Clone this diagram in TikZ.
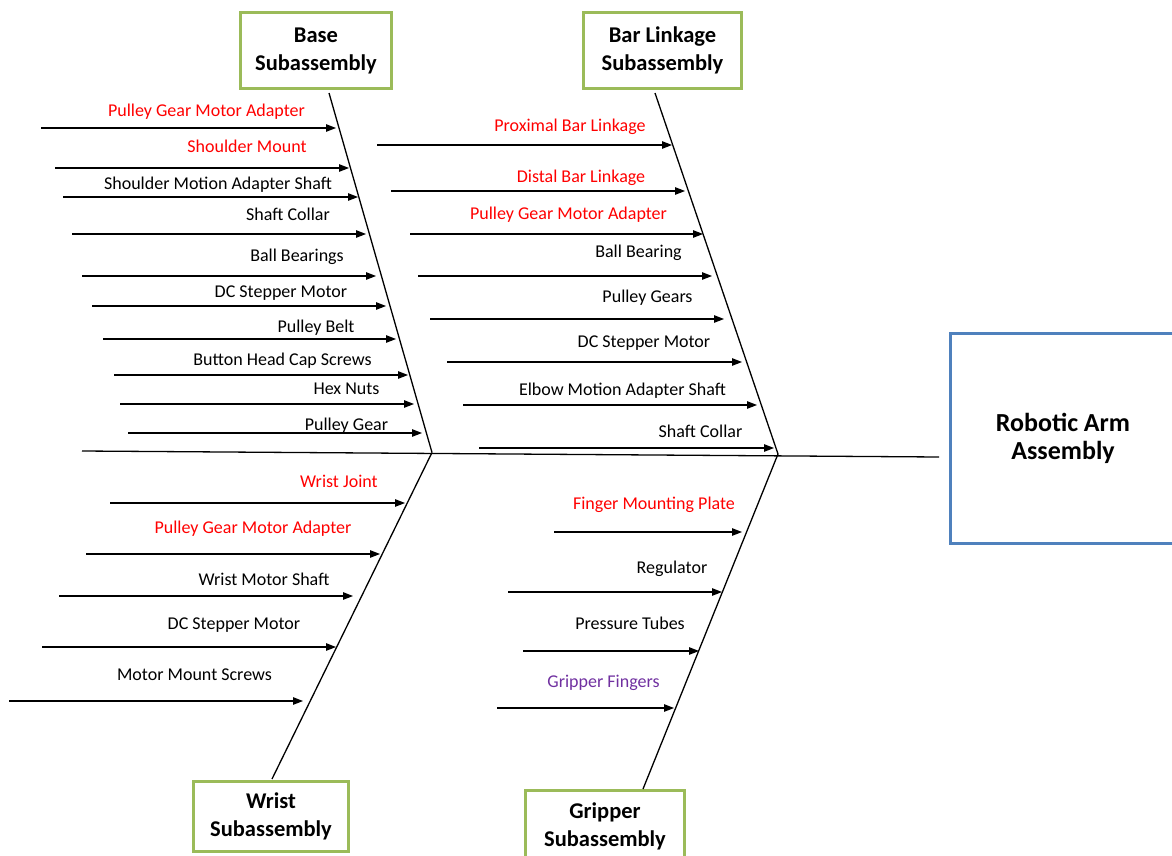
\documentclass[tikz,border=0pt]{standalone}
\usepackage{fontspec}
\setmainfont{Carlito}
\usetikzlibrary{arrows.meta}
\definecolor{boxgreen}{HTML}{9BBB59}
\definecolor{boxblue}{HTML}{4F81BD}
\definecolor{itemred}{HTML}{FF0000}
\definecolor{itempurple}{HTML}{7030A0}
\tikzset{
  arr/.style={-{Triangle[length=10pt,width=7.5pt]}, line width=1.2pt, black},
  bone/.style={line width=1.3pt, black},
  lbl/.style={font=\fontsize{18}{21}\selectfont, anchor=base, yshift=-5.5pt, inner sep=0pt},
  subbox/.style={draw=boxgreen, line width=3pt, fill=white, align=center,
     font=\fontsize{22.5}{28}\selectfont\bfseries, inner sep=0pt},
  headbox/.style={draw=boxblue, line width=3pt, fill=white, align=center,
     font=\fontsize{26}{28}\selectfont\bfseries, inner sep=0pt}
}
\newcommand{\fishitem}[8]{%
  \coordinate (#1s) at (#6,#8);
  \coordinate (#1e) at (#7,#8);
  \draw[arr] (#1s) -- (#1e);
  \node[lbl,text=#4] (#1l) at (#2,#3) {#5};
}
\begin{document}
\begin{tikzpicture}[x=1pt,y=-1pt]
\useasboundingbox (0,0) rectangle (1172,856);
\clip (0,0) rectangle (1172,856);

% boxes
\node[subbox, minimum width=151pt, minimum height=76pt] (base) at (316,50.5) {Base\\Subassembly};
\node[subbox, minimum width=158pt, minimum height=76pt] (bar) at (662.5,50.5) {Bar Linkage\\Subassembly};
\node[subbox, minimum width=155pt, minimum height=70pt] (wrist) at (271,816.5) {Wrist\\Subassembly};
\node[subbox, minimum width=159pt, minimum height=72pt] (grip) at (605,826) {Gripper\\Subassembly};
\node[headbox, minimum width=225pt, minimum height=210pt] (robot) at (1063,438.5) {Robotic Arm\\Assembly};

% spine and bones
\coordinate (spL) at (82,451);
\coordinate (spR) at (939,457);
\coordinate (jB) at (432,452.5);
\coordinate (jA) at (778,454);
\coordinate (tB) at (329,93);
\coordinate (tA) at (655,93);
\coordinate (tW) at (272,779);
\coordinate (tG) at (643,789);
\draw[bone] (spL) -- (spR);
\draw[bone] (tB) -- (jB);
\draw[bone] (tA) -- (jA);
\draw[bone] (jB) -- (tW);
\draw[bone] (jA) -- (tG);

% Base subassembly
\fishitem{bA}{206.5}{111}{itemred}{Pulley Gear Motor Adapter}{41}{336}{128}
\fishitem{bB}{247}{147}{itemred}{Shoulder Mount}{55}{349}{168}
\fishitem{bC}{218}{184}{black}{Shoulder Motion Adapter Shaft}{63}{358}{197}
\fishitem{bD}{288}{215}{black}{Shaft Collar}{72}{366}{234}
\fishitem{bE}{297}{256}{black}{Ball Bearings}{82}{376}{276}
\fishitem{bF}{281}{292}{black}{DC Stepper Motor}{92}{386}{306}
\fishitem{bG}{316}{327}{black}{Pulley Belt}{103}{396}{339}
\fishitem{bH}{282.5}{360}{black}{Button Head Cap Screws}{114}{408}{375}
\fishitem{bI}{346.5}{389}{black}{Hex Nuts}{120}{414}{404}
\fishitem{bJ}{346.5}{425}{black}{Pulley Gear}{128}{422}{433}

% Bar linkage subassembly
\fishitem{lA}{570}{126}{itemred}{Proximal Bar Linkage}{377}{672}{145}
\fishitem{lB}{581}{177}{itemred}{Distal Bar Linkage}{391}{685}{191}
\fishitem{lC}{568.5}{214}{itemred}{Pulley Gear Motor Adapter}{410}{703}{234}
\fishitem{lD}{638.5}{252}{black}{Ball Bearing}{418}{712}{276}
\fishitem{lE}{647.5}{297}{black}{Pulley Gears}{430}{724}{319}
\fishitem{lF}{644}{342}{black}{DC Stepper Motor}{447}{742}{362}
\fishitem{lG}{622.5}{390}{black}{Elbow Motion Adapter Shaft}{463}{757}{405}
\fishitem{lH}{700.5}{432}{black}{Shaft Collar}{479}{774}{448}

% Wrist subassembly
\fishitem{wA}{339}{482}{itemred}{Wrist Joint}{110}{405}{503}
\fishitem{wB}{253}{528}{itemred}{Pulley Gear Motor Adapter}{86}{380}{554}
\fishitem{wC}{264}{580}{black}{Wrist Motor Shaft}{59}{353}{596}
\fishitem{wD}{234}{624}{black}{DC Stepper Motor}{42}{336}{647}
\fishitem{wE}{194.5}{675}{black}{Motor Mount Screws}{9}{303}{701}

% Gripper subassembly
\fishitem{gA}{654}{504}{itemred}{Finger Mounting Plate}{554}{742}{532}
\fishitem{gB}{672}{568}{black}{Regulator}{508}{722}{592}
\fishitem{gC}{630}{624}{black}{Pressure Tubes}{523}{699}{651}
\fishitem{gD}{603.5}{682}{itempurple}{Gripper Fingers}{497}{674}{708}
\end{tikzpicture}
\end{document}
